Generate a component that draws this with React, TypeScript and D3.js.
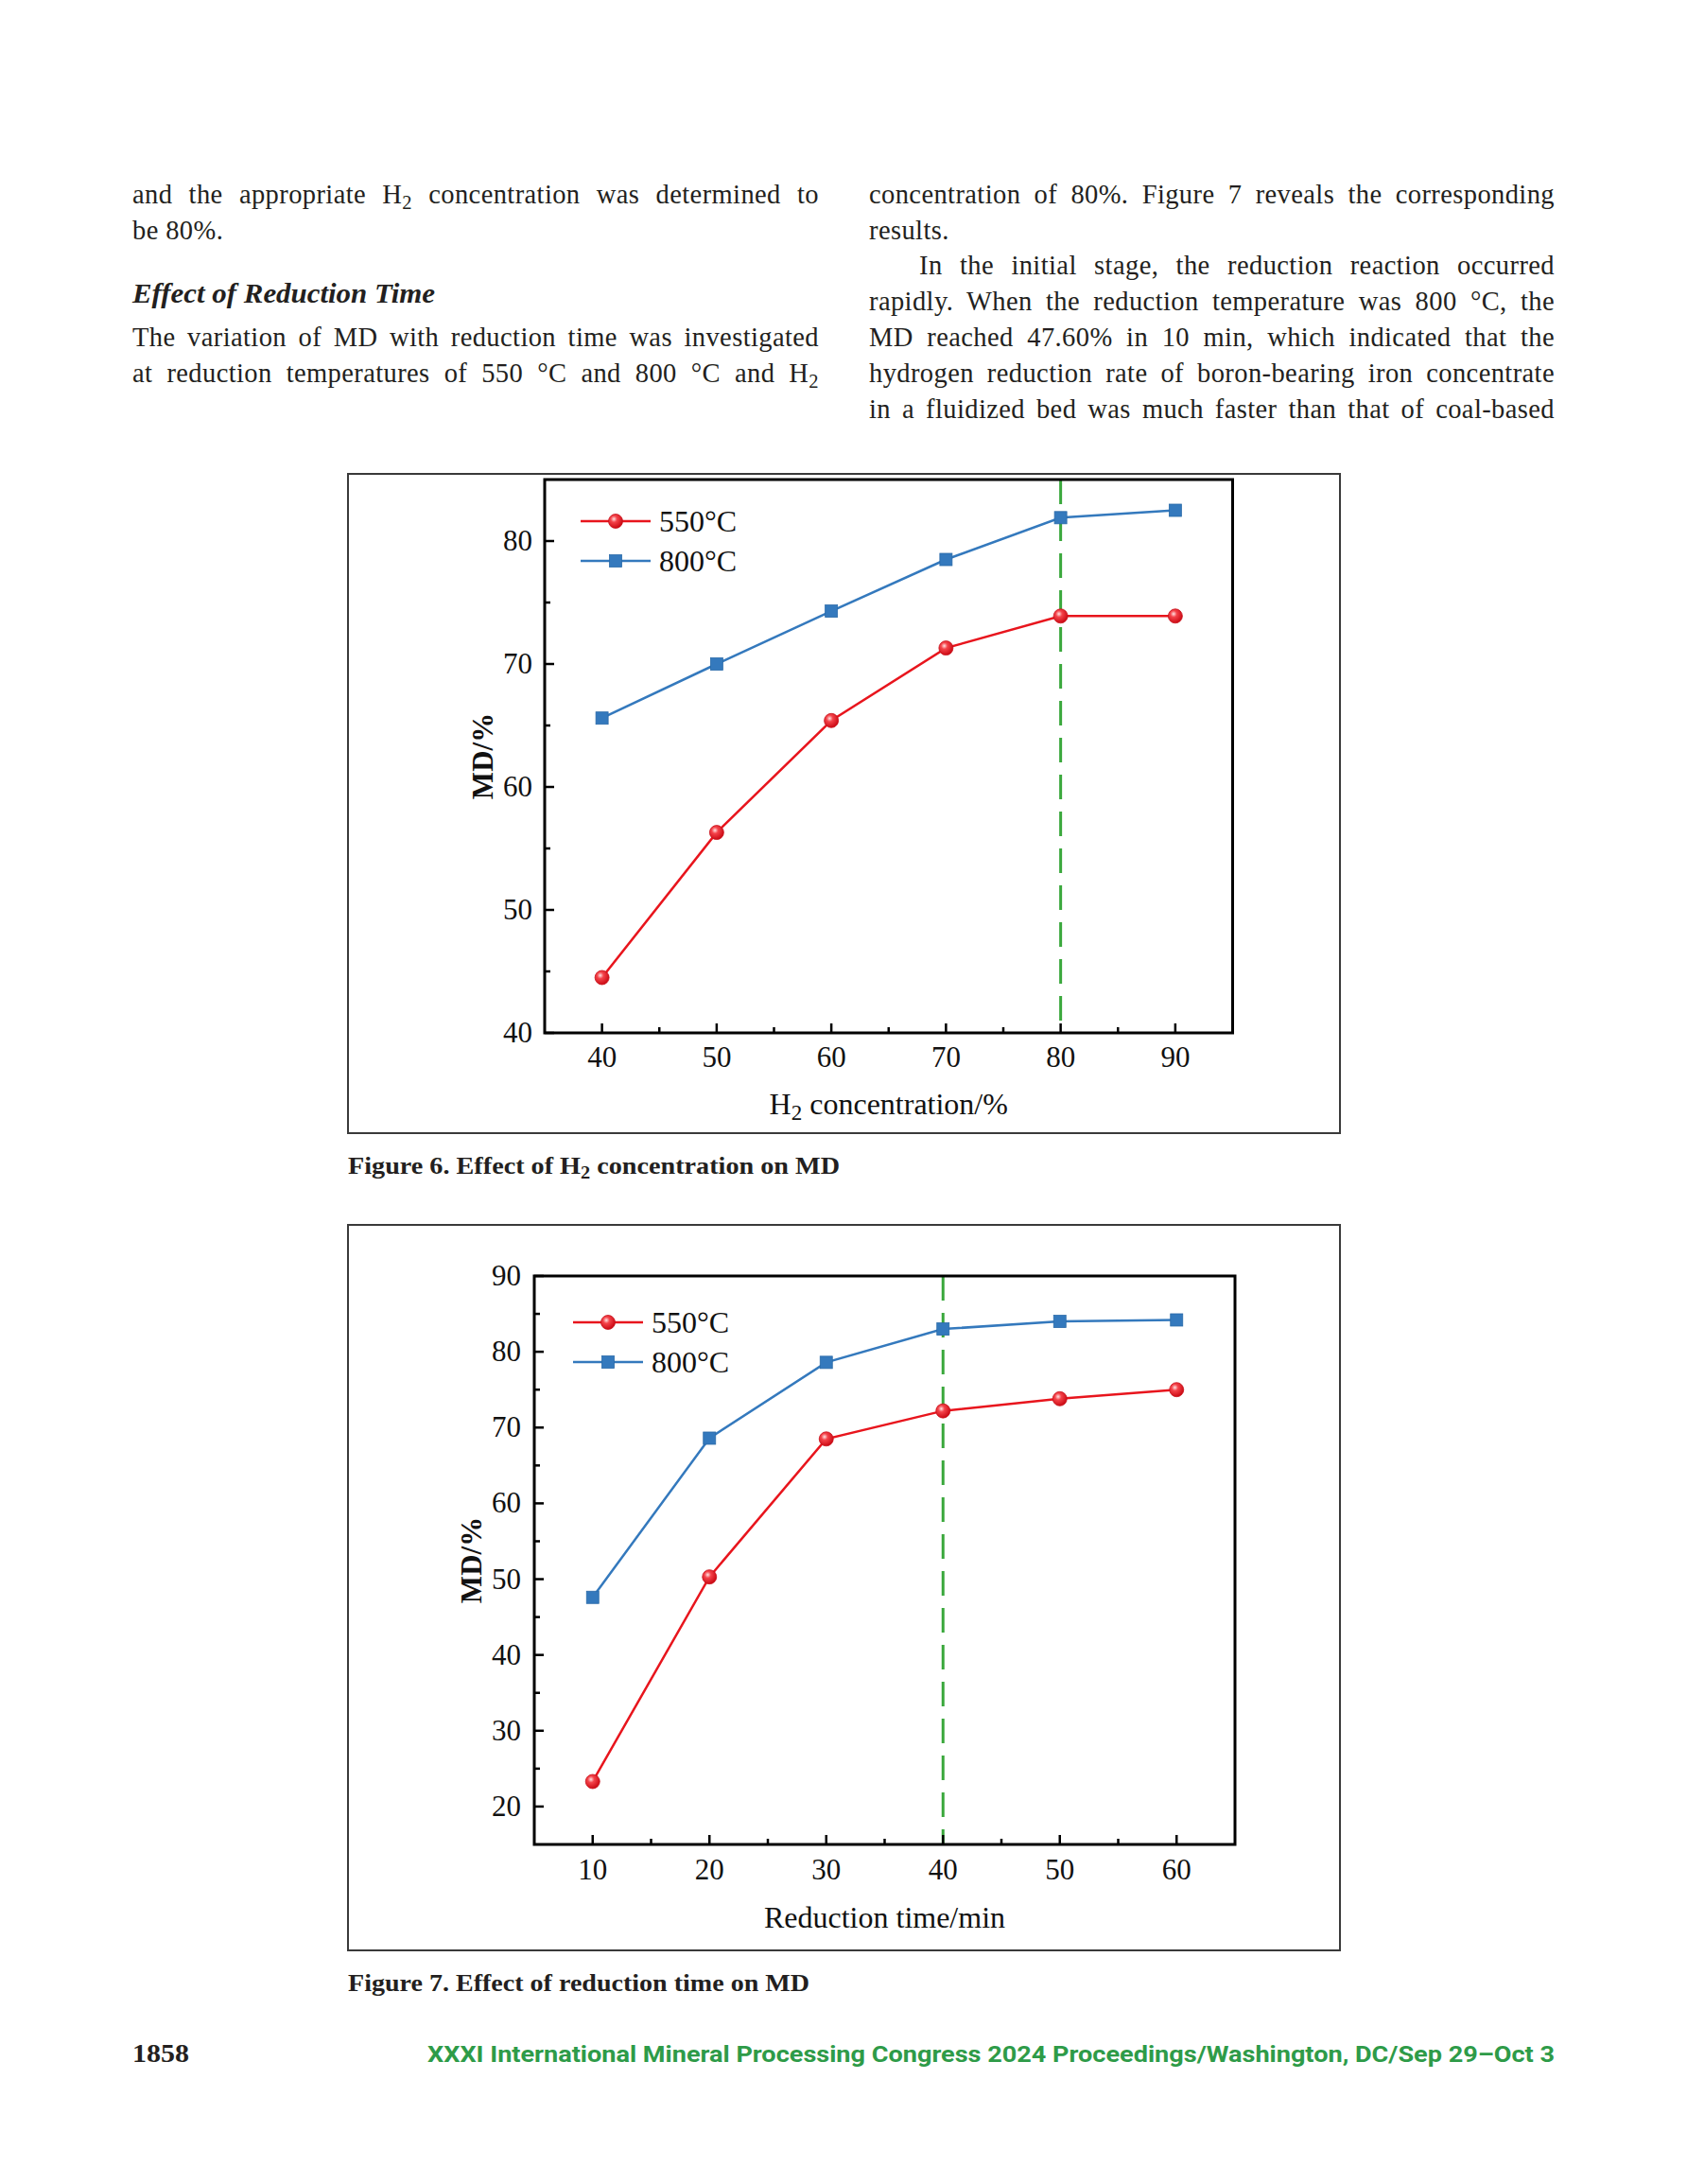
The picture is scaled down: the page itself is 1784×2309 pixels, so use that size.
import * as d3 from 'd3'
import { useLayoutEffect, useRef } from 'react'

// Figure 6: MD against H2 concentration
const concLevels = [40, 50, 60, 70, 80, 90]
const md550Conc = [44.5, 56.3, 65.4, 71.3, 73.9, 73.9]
const md800Conc = [65.6, 70.0, 74.3, 78.5, 81.9, 82.5]
const fig6YTicks = [40, 50, 60, 70, 80]
const fig6XTicks = [40, 50, 60, 70, 80, 90]

// Figure 7: MD against reduction time
const timeLevels = [10, 20, 30, 40, 50, 60]
const md550Time = [23.3, 50.3, 68.5, 72.2, 73.8, 75.0]
const md800Time = [47.6, 68.6, 78.6, 83.0, 84.0, 84.2]
const fig7YTicks = [20, 30, 40, 50, 60, 70, 80, 90]
const fig7XTicks = [10, 20, 30, 40, 50, 60]

const seriesNames = ['550°C', '800°C']

const RED = '#e8151d'
const BLUE = '#3479bd'
const GREEN = '#3aa83c'
const SERIF = '"Liberation Serif", "Times New Roman", serif'

type Box = { x: number; y: number; w: number; h: number }

type ChartProps = {
  id: string
  frame: Box
  plot: Box
  xDomain: [number, number]
  yDomain: [number, number]
  xTicks: number[]
  yTicks: number[]
  xs: number[]
  s550: number[]
  s800: number[]
  marked: number
  legend: { x: number; y: number }
  xTitle: React.ReactNode
  xTitleY: number
  yTitleX: number
  xLabelDy: number
  yLabelGap: number
}

function Chart(p: ChartProps) {
  const x = d3.scaleLinear().domain(p.xDomain).range([p.plot.x, p.plot.x + p.plot.w])
  const y = d3.scaleLinear().domain(p.yDomain).range([p.plot.y + p.plot.h, p.plot.y])
  const line = d3.line<number>().x((_, i) => x(p.xs[i])).y(d => y(d))
  const bottom = p.plot.y + p.plot.h
  const left = p.plot.x

  const xMinor = d3.pairs(p.xTicks).map(([a, b]) => (a + b) / 2)
  const yMinor = d3.pairs(p.yTicks).map(([a, b]) => (a + b) / 2)
  const topTick = p.yTicks[p.yTicks.length - 1]
  if (topTick + 5 < p.yDomain[1]) yMinor.push(topTick + 5)

  const grad = `sphere-${p.id}`
  const sphere = (cx: number, cy: number, k: string) => (
    <circle key={k} cx={cx} cy={cy} r={7.5} fill={`url(#${grad})`} stroke="#c8101a" strokeWidth={0.8} />
  )
  const square = (cx: number, cy: number, k: string) => (
    <rect key={k} x={cx - 6.5} y={cy - 6.5} width={13} height={13} fill={BLUE} stroke="#2a6aa8" strokeWidth={0.8} />
  )

  return (
    <g fontFamily={SERIF}>
      <defs>
        <radialGradient id={grad} cx="38%" cy="35%" r="65%">
          <stop offset="0%" stopColor="#ffe2e2" />
          <stop offset="35%" stopColor="#f4434a" />
          <stop offset="100%" stopColor="#cc0a14" />
        </radialGradient>
      </defs>
      <rect x={p.frame.x} y={p.frame.y} width={p.frame.w} height={p.frame.h} fill="#fff" stroke="#3a3a3a" strokeWidth={2} />

      {/* dashed marker for the chosen condition */}
      <line x1={x(p.marked)} x2={x(p.marked)} y1={p.plot.y} y2={bottom} stroke={GREEN} strokeWidth={3} strokeDasharray="26 13" />

      <path d={line(p.s800) ?? ''} fill="none" stroke={BLUE} strokeWidth={2.5} />
      <path d={line(p.s550) ?? ''} fill="none" stroke={RED} strokeWidth={2.5} />
      {p.s800.map((d, i) => square(x(p.xs[i]), y(d), `b${i}`))}
      {p.s550.map((d, i) => sphere(x(p.xs[i]), y(d), `r${i}`))}

      <rect x={p.plot.x} y={p.plot.y} width={p.plot.w} height={p.plot.h} fill="none" stroke="#000" strokeWidth={3} />

      {p.xTicks.map(t => (
        <g key={`xt${t}`}>
          <line x1={x(t)} x2={x(t)} y1={bottom} y2={bottom - 10} stroke="#000" strokeWidth={2.5} />
          <text x={x(t)} y={bottom + p.xLabelDy} textAnchor="middle" fontSize={31} fill="#111">{t}</text>
        </g>
      ))}
      {xMinor.map(t => (
        <line key={`xm${t}`} x1={x(t)} x2={x(t)} y1={bottom} y2={bottom - 6} stroke="#000" strokeWidth={2.5} />
      ))}
      {p.yTicks.map(t => (
        <g key={`yt${t}`}>
          <line x1={left} x2={left + 10} y1={y(t)} y2={y(t)} stroke="#000" strokeWidth={2.5} />
          <text x={left - p.yLabelGap} y={y(t) + 10} textAnchor="end" fontSize={31} fill="#111">{t}</text>
        </g>
      ))}
      {yMinor.map(t => (
        <line key={`ym${t}`} x1={left} x2={left + 6} y1={y(t)} y2={y(t)} stroke="#000" strokeWidth={2.5} />
      ))}

      {/* legend */}
      {seriesNames.map((name, i) => {
        const ly = p.legend.y + i * 42
        const lx = p.legend.x
        return (
          <g key={name}>
            <line x1={lx} x2={lx + 74} y1={ly} y2={ly} stroke={i === 0 ? RED : BLUE} strokeWidth={2.5} />
            {i === 0 ? sphere(lx + 37, ly, 'lg0') : square(lx + 37, ly, 'lg1')}
            <text x={lx + 83} y={ly + 11} fontSize={32} fill="#111">{name}</text>
          </g>
        )
      })}

      <text x={p.plot.x + p.plot.w / 2} y={p.xTitleY} textAnchor="middle" fontSize={32} fill="#111">{p.xTitle}</text>
      <text
        transform={`translate(${p.yTitleX}, ${p.plot.y + p.plot.h / 2}) rotate(-90)`}
        textAnchor="middle"
        fontSize={31}
        fontWeight="bold"
        fill="#111"
      >
        MD/%
      </text>
    </g>
  )
}

const Sub = ({ children }: { children: React.ReactNode }) => (
  <tspan baselineShift="-28%" fontSize="72%">{children}</tspan>
)

// body lines: [x, baseline, justified width or 0, content]
type Line = [number, number, number, React.ReactNode]
const leftLines: Line[] = [
  [140, 215, 726, <>and the appropriate H<Sub>2</Sub> concentration was determined to</>],
  [140, 253, 0, 'be 80%.'],
  [140, 366, 726, 'The variation of MD with reduction time was investigated'],
  [140, 404, 726, <>at reduction temperatures of 550 °C and 800 °C and H<Sub>2</Sub></>],
]
const rightLines: Line[] = [
  [919, 215, 725, 'concentration of 80%. Figure 7 reveals the corresponding'],
  [919, 253, 0, 'results.'],
  [972, 290, 672, 'In the initial stage, the reduction reaction occurred'],
  [919, 328, 725, 'rapidly. When the reduction temperature was 800 °C, the'],
  [919, 366, 725, 'MD reached 47.60% in 10 min, which indicated that the'],
  [919, 404, 725, 'hydrogen reduction rate of boron-bearing iron concentrate'],
  [919, 442, 725, 'in a fluidized bed was much faster than that of coal-based'],
]

export default function App() {
  const svgRef = useRef<SVGSVGElement | null>(null)

  // justify body lines by spreading the leftover width over the word gaps
  useLayoutEffect(() => {
    if (!svgRef.current) return
    svgRef.current.querySelectorAll<SVGTextElement>('text[data-w]').forEach(el => {
      const target = +el.getAttribute('data-w')!
      el.removeAttribute('word-spacing')
      const natural = el.getComputedTextLength()
      const gaps = (el.textContent ?? '').split(' ').length - 1
      if (gaps > 0) el.setAttribute('word-spacing', String((target - natural) / gaps))
    })
  }, [])

  const renderLine = ([x, y, w, content]: Line, i: number) => (
    <text key={i} x={x} y={y} {...(w ? { 'data-w': w } : {})}>{content}</text>
  )

  return (
    <svg
      ref={svgRef}
      width={1784}
      height={2309}
      viewBox="0 0 1784 2309"
      style={{ position: 'absolute', left: 0, top: 0, background: '#fff' }}
      fontFamily={SERIF}
    >
      <rect width={1784} height={2309} fill="#fff" />

      <g fontSize={28.5} fill="#231f20" letterSpacing={0.4}>
        {leftLines.map(renderLine)}
        {rightLines.map((l, i) => renderLine(l, i + 10))}
        <text x={140} y={320} fontWeight="bold" fontStyle="italic" letterSpacing={0} textLength={320} lengthAdjust="spacingAndGlyphs">
          Effect of Reduction Time
        </text>
      </g>

      <Chart
        id="f6"
        frame={{ x: 368, y: 501, w: 1049, h: 697 }}
        plot={{ x: 576, y: 507, w: 727.5, h: 585 }}
        xDomain={[35, 95]}
        yDomain={[40, 85]}
        xTicks={fig6XTicks}
        yTicks={fig6YTicks}
        xs={concLevels}
        s550={md550Conc}
        s800={md800Conc}
        marked={80}
        legend={{ x: 614, y: 551 }}
        xTitle={<>H<Sub>2</Sub> concentration/%</>}
        xTitleY={1178}
        yTitleX={521}
        xLabelDy={36}
        yLabelGap={13}
      />
      <text x={368} y={1241} fontSize={25} fontWeight="bold" fill="#231f20" textLength={520} lengthAdjust="spacingAndGlyphs">
        Figure 6. Effect of H<Sub>2</Sub> concentration on MD
      </text>

      <Chart
        id="f7"
        frame={{ x: 368, y: 1295, w: 1049, h: 767 }}
        plot={{ x: 565, y: 1349, w: 741, h: 601 }}
        xDomain={[5, 65]}
        yDomain={[15, 90]}
        xTicks={fig7XTicks}
        yTicks={fig7YTicks}
        xs={timeLevels}
        s550={md550Time}
        s800={md800Time}
        marked={40}
        legend={{ x: 606, y: 1398 }}
        xTitle="Reduction time/min"
        xTitleY={2038}
        yTitleX={509}
        xLabelDy={37}
        yLabelGap={14}
      />
      <text x={368} y={2105} fontSize={25} fontWeight="bold" fill="#231f20" textLength={488} lengthAdjust="spacingAndGlyphs">
        Figure 7. Effect of reduction time on MD
      </text>

      {/* footer */}
      <text x={140} y={2180} fontSize={28} fontWeight="bold" fill="#231f20" textLength={60} lengthAdjust="spacingAndGlyphs">1858</text>
      <text
        x={1644}
        y={2180}
        textAnchor="end"
        fontSize={23}
        fontWeight="bold"
        fill="#2e9b48"
        fontFamily='Roboto, "Noto Sans", sans-serif'
        textLength={1192}
        lengthAdjust="spacingAndGlyphs"
      >
        XXXI International Mineral Processing Congress 2024 Proceedings/Washington, DC/Sep 29–Oct 3
      </text>
    </svg>
  )
}
